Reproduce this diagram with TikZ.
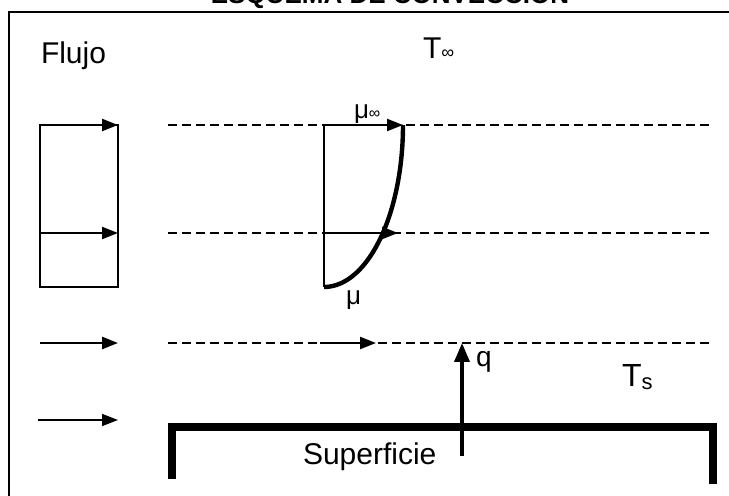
\documentclass[tikz,border=0pt]{standalone}
\usepackage{fontspec}
\setmainfont{Liberation Sans}
\usetikzlibrary{arrows.meta}
\tikzset{
  lbl/.style={inner sep=0pt, outer sep=0pt, font=\fontsize{15}{18}\selectfont},
  dashln/.style={line width=1pt, dash pattern=on 4.5pt off 2.5pt},
  flowarr/.style={line width=1.1pt, -{Triangle[length=8pt,width=6pt]}},
  frameln/.style={line width=1.1pt},
  surf/.style={line width=4pt},
  profile/.style={line width=2.2pt}
}
\begin{document}
\begin{tikzpicture}[x=0.5pt,y=-0.5pt]
\clip (0,0) rectangle (729,496);
\fill[white] (0,0) rectangle (729,496);
% title (cut off at top, as in the reference)
\node[lbl, font=\fontsize{13}{15}\selectfont\bfseries, anchor=base] (title) at (390,4) {ESQUEMA DE CONVECCION};
% frame
\coordinate (fbl) at (9,496);
\coordinate (ftl) at (9,12);
\coordinate (ftr) at (729,12);
\draw[frameln] (fbl) -- (ftl) -- (ftr);
% labels
\node[lbl, anchor=base west] (flujo) at (41,64) {Flujo};
\node[lbl, anchor=base west] (tinf) at (423,59) {T{\fontsize{9}{9}\selectfont ∞}};
% dashed lines
\coordinate (d1a) at (168,125); \coordinate (d1b) at (712,125);
\coordinate (d2a) at (168,233); \coordinate (d2b) at (712,233);
\coordinate (d3a) at (168,343); \coordinate (d3b) at (712,343);
\draw[dashln] (d1a) -- (d1b);
\draw[dashln] (d2a) -- (d2b);
\draw[dashln] (d3a) -- (d3b);
% uniform flow box
\coordinate (bxa) at (40,125); \coordinate (bxb) at (118,287);
\draw[frameln] (bxa) rectangle (bxb);
\coordinate (ba1) at (40,125); \coordinate (bb1) at (118,125);
\coordinate (ba2) at (40,233); \coordinate (bb2) at (118,233);
\draw[flowarr] (ba1) -- (bb1);
\draw[flowarr] (ba2) -- (bb2);
% free arrows at left
\coordinate (la1) at (40,343); \coordinate (lb1) at (118,343);
\coordinate (la2) at (38,420); \coordinate (lb2) at (118,420);
\draw[flowarr, line width=1.3pt] (la1) -- (lb1);
\draw[flowarr, line width=0.8pt] (la2) -- (lb2);
% velocity profile
\coordinate (pt) at (324,125); \coordinate (pb) at (324,287);
\coordinate (ptip) at (403,125);
\coordinate (pm) at (324,233); \coordinate (pmtip) at (398,233);
\draw[line width=1.1pt] (pt) -- (pb);
\draw[flowarr] (pt) -- (ptip);
\draw[flowarr] (pm) -- (pmtip);
\draw[profile] plot[domain=90:0, samples=50] ({324+79*cos(\x)},{125+162*sin(\x)});
\node[lbl, font=\fontsize{13}{15}\selectfont, anchor=base west] (muinf) at (354,119) {μ{\fontsize{8}{8}\selectfont ∞}};
\node[lbl, font=\fontsize{13}{15}\selectfont, anchor=base west] (mu) at (346,305) {μ};
% arrow on third dashed line
\coordinate (ma) at (320,343); \coordinate (mb) at (376,343);
\draw[flowarr] (ma) -- (mb);
% heat flux
\coordinate (qa) at (462,456); \coordinate (qb) at (462,343);
\draw[line width=1.8pt, -{Triangle[length=9.5pt,width=7.5pt]}] (qa) -- (qb);
\node[lbl, font=\fontsize{14}{16}\selectfont, anchor=base west] (q) at (476,367) {q};
\node[lbl, font=\fontsize{16}{18}\selectfont, anchor=base west] (ts) at (622,387) {T\raisebox{-1.5pt}{\fontsize{11}{11}\selectfont s}};
% surface
\coordinate (sl) at (172,479); \coordinate (sl2) at (172,427);
\coordinate (sr2) at (713,427); \coordinate (sr) at (713,484);
\draw[surf] (sl) -- (sl2) -- (sr2) -- (sr);
\node[lbl, anchor=base west] (sup) at (303,465) {Superficie};
\end{tikzpicture}
\end{document}
